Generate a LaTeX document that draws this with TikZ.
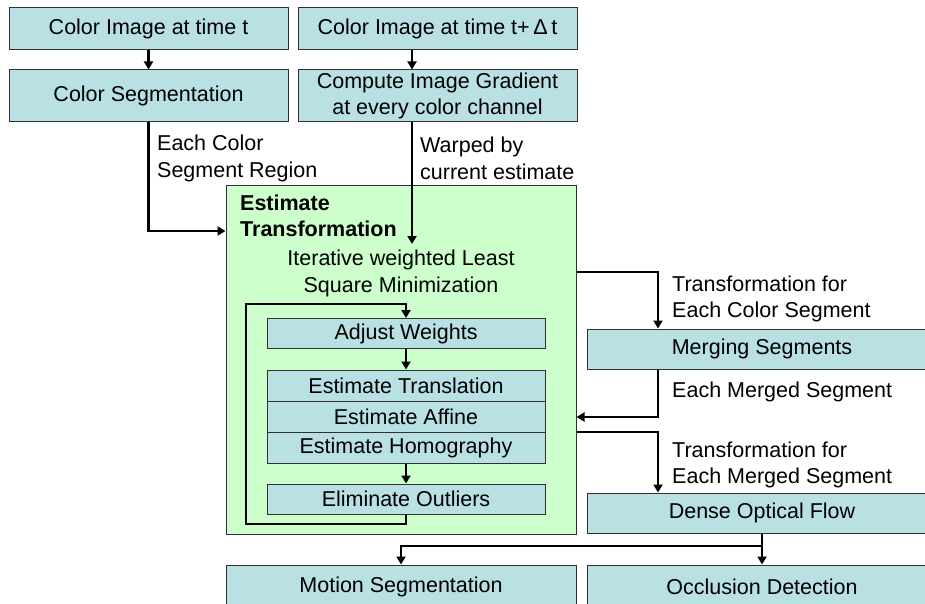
\documentclass[tikz,border=0pt]{standalone}
\usepackage{fontspec}
\setmainfont{Liberation Sans}
\usetikzlibrary{arrows.meta}
\definecolor{boxblue}{HTML}{B9E0E3}
\definecolor{boxgreen}{HTML}{CCFFCC}
\definecolor{edge}{HTML}{303030}
\begin{document}
\begin{tikzpicture}[x=1pt,y=-1pt,
  every node/.style={font=\fontsize{21.5}{26.5}\selectfont, inner sep=0pt},
  bluebox/.style={draw=edge, line width=1pt, fill=boxblue, align=center},
  greenbox/.style={draw=edge, line width=1pt, fill=boxgreen},
  lbl/.style={align=left, anchor=west},
  arr/.style={line width=2.2pt, -{Triangle[length=8pt,width=9pt]}},
  ln/.style={line width=2.2pt}]
\useasboundingbox (0,0) rectangle (925,604);
\clip (0,0) rectangle (925,604);
% top boxes
\node[bluebox, minimum width=279pt, minimum height=42pt] (img1) at (148.5,29) {Color Image at time t};
\node[bluebox, minimum width=279pt, minimum height=42pt] (img2) at (437.5,29) {Color Image at time t+\,Δ\,t};
\node[bluebox, minimum width=279pt, minimum height=52pt] (seg) at (148.5,96) {Color Segmentation};
\node[bluebox, minimum width=279pt, minimum height=52pt] (grad) at (437.5,96) {Compute Image Gradient\\at every color channel};
% green container
\node[greenbox, minimum width=350pt, minimum height=349pt] (green) at (401,359.5) {};
\node[font=\fontsize{21.5}{26.5}\selectfont\bfseries, lbl] (esttitle) at (240,216) {Estimate\\Transformation};
\node[align=center] (iter) at (401,273.5) {Iterative weighted Least\\Square Minimization};
% inner boxes
\node[bluebox, minimum width=278pt, minimum height=30pt] (adj) at (406,333.5) {Adjust Weights};
\node[bluebox, minimum width=278pt, minimum height=31pt] (trans) at (406,385.5) {Estimate Translation};
\node[bluebox, minimum width=278pt, minimum height=31pt] (aff) at (406,416.5) {Estimate Affine};
\node[bluebox, minimum width=278pt, minimum height=31pt] (homo) at (406,447.5) {Estimate Homography};
\node[bluebox, minimum width=278pt, minimum height=30pt] (elim) at (406,499) {Eliminate Outliers};
% right boxes
\node[bluebox, minimum width=350pt, minimum height=40pt] (merge) at (762,349) {Merging Segments};
\node[bluebox, minimum width=350pt, minimum height=40pt] (dense) at (762,513) {Dense Optical Flow};
\node[bluebox, minimum width=350pt, minimum height=44pt] (motion) at (401,587) {Motion Segmentation};
\node[bluebox, minimum width=350pt, minimum height=44pt] (occl) at (762,587) {Occlusion Detection};
% labels
\node[lbl] (l1) at (157,158.5) {Each Color\\Segment Region};
\node[lbl] (l2) at (420,158.5) {Warped by\\current estimate};
\node[lbl] (l3) at (672,299) {Transformation for\\Each Color Segment};
\node[lbl] (l4) at (672,392) {Each Merged Segment};
\node[lbl] (l5) at (672,465) {Transformation for\\Each Merged Segment};
% helper coordinates
\coordinate (wx) at (412,0);
\coordinate (wtip) at (412,244);
\coordinate (ca) at (0,231);
\coordinate (lb) at (246,524);
\coordinate (lt) at (246,304);
\coordinate (r1) at (658,272);
\coordinate (r2) at (658,417);
\coordinate (r3) at (658,432);
\coordinate (d1) at (762,546);
% connectors
\draw[arr] (img1) -- (seg);
\draw[arr] (img2.south -| wx) -- (grad.north -| wx);
\draw[arr] (seg.south) |- (green.west |- ca);
\draw[arr] (grad.south -| wx) -- (wtip);
\draw[arr] (adj) -- (trans);
\draw[arr] (homo) -- (elim);
\draw[arr] (elim.south) |- (lb) -- (lt) -| (adj.north);
\draw[arr] (green.east |- r1) -| (merge.north -| r1);
\draw[arr] (merge.south -| r1) |- (green.east |- r2);
\draw[arr] (green.east |- r3) -| (dense.north -| r3);
\draw[arr] (dense.south) -- (dense.south |- d1) -| (motion.north);
\draw[arr] (dense.south) -- (occl.north);
\end{tikzpicture}
\end{document}
